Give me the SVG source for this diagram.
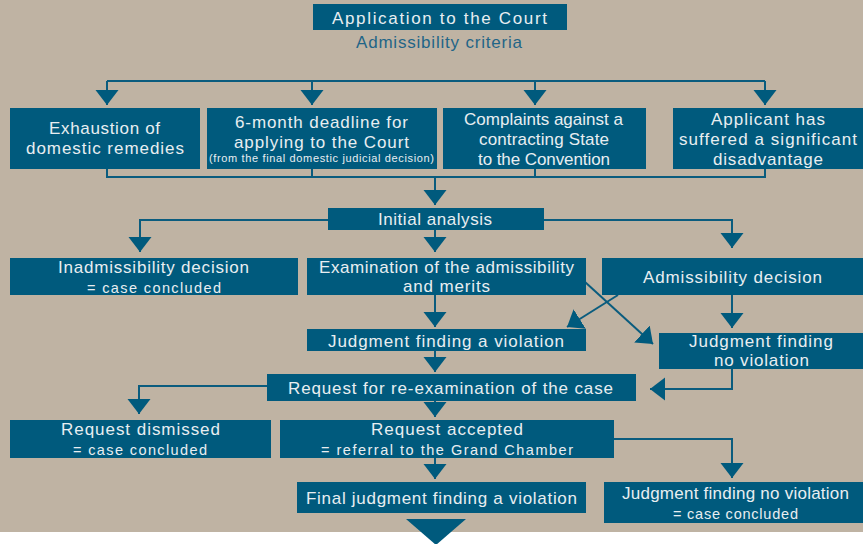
<svg xmlns="http://www.w3.org/2000/svg" width="863" height="544" viewBox="0 0 863 544">
<style>
.box{fill:#005A7D}
.t{font-family:"Liberation Sans",Arial,sans-serif;fill:#E8EEF1;font-size:17px}
.s{font-size:14.5px}
.xs{font-size:11px}
.sub{font-family:"Liberation Sans",Arial,sans-serif;fill:#1F6587;font-size:17px}
.ln{fill:none;stroke:#0A5C7E;stroke-width:2}
</style>
<defs>
<marker id="ah" markerUnits="userSpaceOnUse" markerWidth="16" markerHeight="24" refX="15" refY="12" orient="auto" viewBox="0 0 16 24">
<path d="M0,0.5 L15,12 L0,23.5 z" fill="#005A7D"/>
</marker>
</defs>
<rect x="0" y="0" width="863" height="532" fill="#BFB3A3"/>
<rect x="0" y="532" width="863" height="12" fill="#FFFFFF"/>

<g id="connectors">
<path class="ln" d="M107,81 H765"/>
<path class="ln" d="M107,81 V105" marker-end="url(#ah)"/>
<path class="ln" d="M312,81 V105" marker-end="url(#ah)"/>
<path class="ln" d="M535,81 V105" marker-end="url(#ah)"/>
<path class="ln" d="M765,81 V105" marker-end="url(#ah)"/>
<path class="ln" d="M107,169 V177 H765 V169 M312,169 V177 M535,169 V177"/>
<path class="ln" d="M435,177 V205" marker-end="url(#ah)"/>
<path class="ln" d="M328,220 H140 V252" marker-end="url(#ah)"/>
<path class="ln" d="M544,220 H732 V248" marker-end="url(#ah)"/>
<path class="ln" d="M435,230 V252" marker-end="url(#ah)"/>
<path class="ln" d="M435,295 V327" marker-end="url(#ah)"/>
<path class="ln" d="M585,282 L653,344" marker-end="url(#ah)"/>
<path class="ln" d="M618,295 L567,327" marker-end="url(#ah)"/>
<path class="ln" d="M732,295 V328" marker-end="url(#ah)"/>
<path class="ln" d="M732,369 V389 H650" marker-end="url(#ah)"/>
<path class="ln" d="M435,351 V372" marker-end="url(#ah)"/>
<path class="ln" d="M267,386 H139 V414" marker-end="url(#ah)"/>
<path class="ln" d="M435,401 V417" marker-end="url(#ah)"/>
<path class="ln" d="M614,439 H732 V478" marker-end="url(#ah)"/>
<path class="ln" d="M435,458 V479" marker-end="url(#ah)"/>
<polygon points="406,519 466,519 436,545" fill="#005A7D"/>
</g>

<g id="title">
<rect class="box" x="313" y="4" width="254" height="26"/>
<text class="t" x="332" y="24" textLength="215" lengthAdjust="spacing">Application to the Court</text>
<text class="sub" x="356" y="48" textLength="166" lengthAdjust="spacing">Admissibility criteria</text>
</g>

<g id="exhaustion">
<rect class="box" x="10" y="108" width="190" height="61"/>
<text class="t" x="49" y="134" textLength="111" lengthAdjust="spacing">Exhaustion of</text>
<text class="t" x="26" y="154" textLength="158" lengthAdjust="spacing">domestic remedies</text>
</g>

<g id="deadline">
<rect class="box" x="207" y="108" width="230" height="61"/>
<text class="t" x="235" y="128" textLength="173" lengthAdjust="spacing">6-month deadline for</text>
<text class="t" x="234" y="148" textLength="175" lengthAdjust="spacing">applying to the Court</text>
<text class="t xs" x="209" y="162" textLength="225" lengthAdjust="spacing">(from the final domestic judicial decision)</text>
</g>

<g id="complaints">
<rect class="box" x="443" y="108" width="203" height="61"/>
<text class="t" x="464" y="125" font-size="16" textLength="159" lengthAdjust="spacing">Complaints against a</text>
<text class="t" x="479" y="145" font-size="16" textLength="130" lengthAdjust="spacing">contracting State</text>
<text class="t" x="478" y="165" font-size="16" textLength="132" lengthAdjust="spacing">to the Convention</text>
</g>

<g id="disadvantage">
<rect class="box" x="673" y="108" width="190" height="61"/>
<text class="t" x="711" y="125" textLength="114" lengthAdjust="spacing">Applicant has</text>
<text class="t" x="679" y="145" textLength="178" lengthAdjust="spacing">suffered a significant</text>
<text class="t" x="713" y="165" textLength="110" lengthAdjust="spacing">disadvantage</text>
</g>

<g id="initial">
<rect class="box" x="328" y="208" width="216" height="22"/>
<text class="t" x="378" y="225" textLength="114" lengthAdjust="spacing">Initial analysis</text>
</g>

<g id="inadmissibility">
<rect class="box" x="10" y="258" width="288" height="37"/>
<text class="t" x="58" y="273" textLength="191" lengthAdjust="spacing">Inadmissibility decision</text>
<text class="t s" x="87" y="293" textLength="134" lengthAdjust="spacing">= case concluded</text>
</g>

<g id="examination">
<rect class="box" x="307" y="258" width="279" height="37"/>
<text class="t" x="319" y="273" textLength="255" lengthAdjust="spacing">Examination of the admissibility</text>
<text class="t" x="403" y="292" textLength="87" lengthAdjust="spacing">and merits</text>
</g>

<g id="admissibility">
<rect class="box" x="602" y="258" width="261" height="37"/>
<text class="t" x="643" y="283" textLength="179" lengthAdjust="spacing">Admissibility decision</text>
</g>

<g id="violation">
<rect class="box" x="307" y="329" width="279" height="22"/>
<text class="t" x="328" y="347" textLength="236" lengthAdjust="spacing">Judgment finding a violation</text>
</g>

<g id="noviolation">
<rect class="box" x="659" y="333" width="204" height="36"/>
<text class="t" x="689" y="347" textLength="144" lengthAdjust="spacing">Judgment finding</text>
<text class="t" x="714" y="366" textLength="95" lengthAdjust="spacing">no violation</text>
</g>

<g id="reexamination">
<rect class="box" x="267" y="374" width="369" height="27"/>
<text class="t" x="288" y="394" textLength="325" lengthAdjust="spacing">Request for re-examination of the case</text>
</g>

<g id="dismissed">
<rect class="box" x="10" y="420" width="261" height="38"/>
<text class="t" x="61" y="435" textLength="159" lengthAdjust="spacing">Request dismissed</text>
<text class="t s" x="73" y="455" textLength="134" lengthAdjust="spacing">= case concluded</text>
</g>

<g id="accepted">
<rect class="box" x="280" y="420" width="334" height="38"/>
<text class="t" x="371" y="435" textLength="152" lengthAdjust="spacing">Request accepted</text>
<text class="t s" x="321" y="455" textLength="252" lengthAdjust="spacing">= referral to the Grand Chamber</text>
</g>

<g id="final">
<rect class="box" x="297" y="482" width="289" height="31"/>
<text class="t" x="306" y="504" textLength="271" lengthAdjust="spacing">Final judgment finding a violation</text>
</g>

<g id="finalnoviolation">
<rect class="box" x="604" y="482" width="259" height="41"/>
<text class="t" x="622" y="499" textLength="227" lengthAdjust="spacing">Judgment finding no violation</text>
<text class="t s" x="673" y="519" font-size="14" textLength="125" lengthAdjust="spacing">= case concluded</text>
</g>
</svg>
